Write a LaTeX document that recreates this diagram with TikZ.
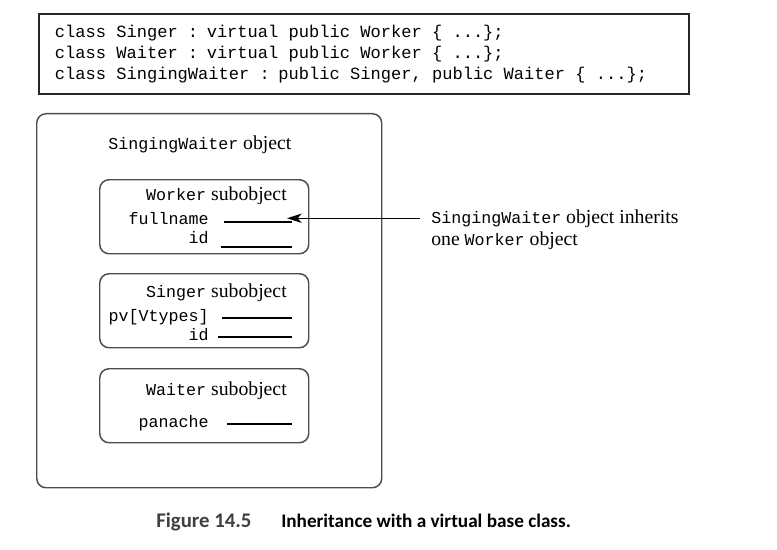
\documentclass[tikz,border=0pt]{standalone}
\usepackage{fontspec}
\setmainfont{Liberation Serif}
\setmonofont{Liberation Mono}
\newfontfamily\capfont{Carlito}
\usetikzlibrary{positioning, arrows.meta}

\begin{document}
\begin{tikzpicture}[x=0.75pt,y=-0.75pt,
		objbox/.style={draw=black!70,line width=1.1pt,rounded corners=7pt,anchor=north west,inner sep=0pt},
		txt/.style={inner sep=0pt,font=\fontsize{14.8}{17}\selectfont},
		fld/.style={inner sep=0pt,anchor=base east,font=\fontsize{12.5}{15}\selectfont\ttfamily},
		blank/.style={line width=0.9pt},
		captext/.style={inner sep=0pt,anchor=base west,font=\capfont\bfseries\fontsize{#1}{18}\selectfont}]
	\useasboundingbox (0,0) rectangle (777,549);
	
	\node[draw=black!85,line width=1.3pt,anchor=north west,minimum width=487.5pt,minimum height=60pt,
		inner xsep=12pt,text width=463.5pt,align=left,
		font=\fontsize{12.8}{15.9}\selectfont\ttfamily] (code) at (38,13)
		{\spaceskip=0.6em\relax
		 class Singer : virtual public Worker \{ ...\};\\
		 class Waiter : virtual public Worker \{ ...\};\\
		 class SingingWaiter : public Singer, public Waiter \{ ...\};};
	
	\node[objbox,minimum width=258.75pt,minimum height=280.5pt] (sw) at (36,113) {};
	\node[txt,anchor=base west] (swtitle) at (108,150) {\texttt{\fontsize{12.5}{15}\selectfont SingingWaiter} object};
	
	\foreach \n/\y/\h in {Worker/179/21,Singer/273/24,Waiter/368/27}{
		\node[objbox,minimum width=156.75pt,minimum height=55.5pt] (\n) at (99,\y) {};
		\node[txt,anchor=base east] (\n title) at (287,\y+\h) {\texttt{\fontsize{12.5}{15}\selectfont\n} subobject};
	}
	
	\foreach \f/\b/\l/\s [count=\i] in {fullname/224/222/224,id/243/247/221,pv[Vtypes]/321/318/222,id/340/337/218,panache/427/424/227}{
		\node[fld] (f\i) at (209,\b) {\f};
		\draw[blank] (\s,\l) -- (292,\l);
	}
	
	\node[txt,anchor=base west,inner xsep=8.25pt] (note) at (420,223) {\texttt{\fontsize{12.5}{15}\selectfont SingingWaiter} object inherits};
	\node[txt,anchor=base west] (note2) at (431,245) {one \texttt{\fontsize{12.5}{15}\selectfont Worker} object};
	\coordinate (ftip) at (287,217);
	\draw[line width=0.8pt,-{Stealth[length=11pt,width=7pt,inset=3pt]}] (note.west) -- (note.west -| ftip);
	
	\node[captext=15.6,text=black!75] (fig) at (156,527) {Figure 14.5};
	\node[captext=14.4] (capt) at (281,527) {Inheritance with a virtual base class.};
\end{tikzpicture}
\end{document}
